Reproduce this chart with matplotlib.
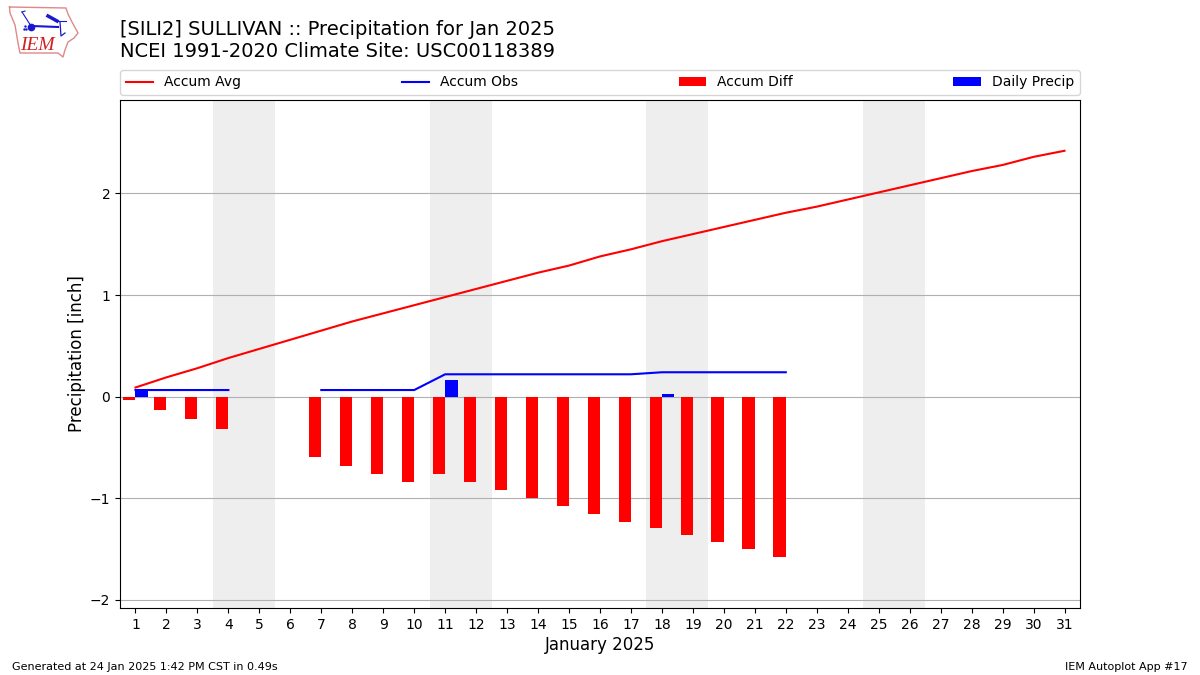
import numpy as np
import matplotlib
matplotlib.use("Agg")
import matplotlib.pyplot as plt

# -----------------------------
# Data
# -----------------------------
days = list(range(1, 32))
accum_avg = [0.09, 0.19, 0.28, 0.38, 0.47, 0.56, 0.65, 0.74, 0.82, 0.90, 0.98,
             1.06, 1.14, 1.22, 1.29, 1.38, 1.45, 1.53, 1.60, 1.67, 1.74, 1.81,
             1.87, 1.94, 2.01, 2.08, 2.15, 2.22, 2.28, 2.36, 2.42]
accum_obs = [0.065, 0.065, 0.065, 0.065, None, None, 0.065, 0.065, 0.065, 0.065, 0.22,
             0.22, 0.22, 0.22, 0.22, 0.22, 0.22, 0.24, 0.24, 0.24, 0.24, 0.24]
accum_diff = [-0.03, -0.13, -0.22, -0.32, None, None, -0.59, -0.68, -0.76, -0.84,
              -0.76, -0.84, -0.92, -1.0, -1.08, -1.16, -1.23, -1.29, -1.36,
              -1.43, -1.5, -1.58]
daily_days = [1, 11, 18]
daily_precip = [0.065, 0.165, 0.03]
weekends = [(3.5, 5.5), (10.5, 12.5), (17.5, 19.5), (24.5, 26.5)]

# logo outline, pixel coordinates of the small logo
iowa_x = [9.5, 66, 68, 72, 78, 74, 68, 65, 63, 58, 20, 18, 15, 10, 9.5]
iowa_y = [7, 8, 14, 22, 33, 38, 42, 50, 57, 53, 53, 43, 25, 13, 7]
BAR_W = 0.4

fig = plt.figure(figsize=(12, 6.75), dpi=100)
ax = fig.add_axes([0.1, 0.0993, 0.8, 0.7526])

for start, end in weekends:
    ax.axvspan(start, end, color="#eeeeee", lw=0, zorder=0)

ax.plot(days, accum_avg, color="r", label="Accum Avg", zorder=3)
obs = np.array(accum_obs, dtype=float)
ax.plot(days[:len(obs)], obs, color="b", label="Accum Obs", zorder=3)
diff = np.array(accum_diff, dtype=float)
ax.bar(np.array(days[:len(diff)]) - BAR_W, diff, width=BAR_W, align="edge",
       color="r", label="Accum Diff", zorder=2)
ax.bar(daily_days, daily_precip, width=BAR_W, align="edge", color="b",
       label="Daily Precip", zorder=2)

ax.set_xlim(0.5, 31.5)
ax.set_ylim(-2.08, 2.92)
ax.set_xticks(days)
ax.set_yticks([-2, -1, 0, 1, 2])
ax.grid(True, axis="y", zorder=1)
ax.set_axisbelow(True)
ax.set_xlabel("January 2025", fontsize=12, labelpad=3)
ax.set_ylabel("Precipitation [inch]", fontsize=12, labelpad=3)

ax.legend(loc="lower left", bbox_to_anchor=(0, 1.0098, 1, 0.05), ncol=4,
          mode="expand", borderaxespad=0, fontsize=10)

fig.text(0.1, 0.9095, "[SILI2] SULLIVAN :: Precipitation for Jan 2025\n"
         "NCEI 1991-2020 Climate Site: USC00118389", fontsize=14, va="bottom",
         linespacing=1.2)
fig.text(0.01, 0.0075, "Generated at 24 Jan 2025 1:42 PM CST in 0.49s", fontsize=8)
fig.text(0.99, 0.0075, "IEM Autoplot App #17", fontsize=8, ha="right")

# Logo, drawn by hand
logo = fig.add_axes([0, 1 - 65 / 675, 90 / 1200, 65 / 675])
logo.set_xlim(0, 90)
logo.set_ylim(65, 0)
logo.axis("off")
logo.plot(iowa_x, iowa_y, color="#e08888", lw=1)
logo.plot([32, 58], [26, 27], color="#1818d0", lw=1.5)
logo.plot([22, 31], [12, 26], color="#1818d0", lw=0.8)
logo.plot([22, 25], [12, 11], color="#1818d0", lw=0.8)
logo.plot([48, 57], [16, 21], color="#1818d0", lw=2.5)
logo.plot([57, 66], [21, 21], color="#1818d0", lw=0.8)
logo.plot([60, 61, 65], [22, 36, 33], color="#1818d0", lw=0.9)
logo.plot([31], [26.5], "o", color="#1818d0", ms=4.5)
logo.plot([24, 26, 25], [29, 29, 26], ".", color="#1818d0", ms=1.5)
logo.text(37, 45, "IEM", color="#d02020", fontsize=14, family="Liberation Serif",
          style="italic", ha="center", va="center")

fig.savefig("out.png", dpi=100)
